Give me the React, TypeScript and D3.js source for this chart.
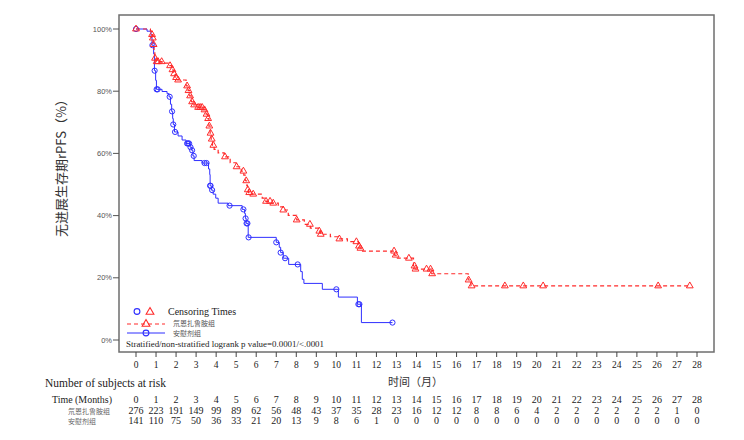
import React from "react";
import * as d3 from "d3";

const months = d3.range(0, 29);
const yTicks = [0, 20, 40, 60, 80, 100];

const redStepT = [0.72,0.78,0.82,0.86,0.9,0.94,1.0,1.3,1.65,1.78,1.85,1.95,2.05,2.5,2.6,2.68,2.76,2.85,3.05,3.35,3.5,3.58,3.64,3.7,3.75,3.82,3.9,4.1,4.4,4.7,5.0,5.25,5.38,5.45,5.52,5.56,5.62,5.8,6.3,6.48,6.7,7.1,7.35,7.6,8.02,8.4,8.7,9.1,9.2,9.7,10.13,10.55,11.1,11.18,11.25,12.9,12.98,13.85,13.92,14.76,16.58,16.72];
const redStepS = [99.3,98.2,97.1,95.0,93.0,90.6,89.5,89.0,88.2,86.9,85.6,84.4,83.6,81.7,80.2,78.5,76.6,75.6,74.8,74.0,72.6,71.2,68.8,66.5,64.6,62.6,61.3,60.2,58.9,57.0,55.7,54.3,53.0,51.2,49.8,48.3,47.4,46.9,45.6,44.6,44.0,42.8,41.8,40.1,38.6,37.2,36.0,35.0,34.0,33.2,32.5,31.6,30.2,29.5,28.6,27.3,26.3,23.8,22.8,21.3,19.3,17.4];
const redCensor = [0,0.8,0.84,0.88,0.95,1.03,1.1,1.28,1.7,1.82,1.9,2.0,2.1,2.55,2.62,2.7,2.8,2.9,3.1,3.2,3.3,3.42,3.52,3.6,3.66,3.72,3.78,3.86,4.44,5.02,5.36,5.5,5.58,5.65,5.85,6.49,6.69,6.85,7.35,8.02,8.68,9.15,9.22,10.15,11.0,11.13,11.2,12.88,12.96,13.62,13.9,13.95,14.5,14.7,14.78,16.6,16.75,18.41,19.33,20.32,26.06,27.64];
const redEnd = 27.64;

const blueStepT = [0.55,0.75,0.8,0.88,0.92,0.98,1.02,1.3,1.55,1.65,1.72,1.78,1.83,1.86,1.92,2.1,2.3,2.5,2.7,2.78,2.84,2.9,3.3,3.62,3.68,3.7,3.76,3.85,3.98,4.1,4.6,5.3,5.42,5.46,5.5,5.6,7.0,7.15,7.22,7.35,7.62,8.22,8.3,8.38,9.3,10.1,11.05,11.25];
const blueStepS = [99.3,97.2,94.8,92.0,86.6,83.5,80.6,79.9,79.2,78.2,75.8,73.5,71.2,69.3,66.9,65.6,64.3,63.2,62.0,61.0,59.2,57.7,56.9,55.0,53.2,49.6,48.2,46.9,45.6,44.0,43.2,42.0,40.7,39.1,37.5,33.0,31.4,29.8,28.1,26.3,24.3,22.0,19.5,18.2,16.3,13.8,11.5,5.6];
const blueCensor = [0,0.82,0.93,1.03,1.08,1.68,1.8,1.86,1.95,2.55,2.6,2.65,2.72,2.8,2.88,3.42,3.52,3.7,3.72,3.8,4.67,5.36,5.47,5.52,5.56,5.62,7.0,7.22,7.44,8.07,10.0,11.1,11.15,12.8];
const blueEnd = 12.8;

const riskRed = [276,223,191,149,99,89,62,56,48,43,37,35,28,23,16,12,12,8,8,6,4,2,2,2,2,2,2,1,0];
const riskBlue = [141,110,75,50,36,33,21,20,13,9,8,6,1,0,0,0,0,0,0,0,0,0,0,0,0,0,0,0,0];

const redName = "氘恩扎鲁胺组";
const blueName = "安慰剂组";

const RED = "#ff2a2a";
const BLUE = "#2f2fff";
const SERIF = "'Liberation Serif', 'DejaVu Serif', serif";
const SANS = "'Liberation Sans', Arial, sans-serif";
const CJK = "'Noto Sans CJK SC', sans-serif";

function survAt(t: number, T: number[], S: number[]) {
  let s = 100;
  for (let i = 0; i < T.length; i++) if (T[i] <= t) s = S[i];
  return s;
}

export default function App() {
  const x = d3.scaleLinear().domain([0, 28]).range([136, 697]);
  const y = d3.scaleLinear().domain([0, 100]).range([340, 29]);

  const stepPath = (T: number[], S: number[], end: number) => {
    const pts: [number, number][] = [[0, 100]];
    T.forEach((t, i) => pts.push([t, S[i]]));
    pts.push([end, S[S.length - 1]]);
    return d3.line<[number, number]>().x(d => x(d[0])).y(d => y(d[1])).curve(d3.curveStepAfter)(pts) || "";
  };

  const tri = d3.symbol().type(d3.symbolTriangle).size(20)() || "";
  const triL = d3.symbol().type(d3.symbolTriangle).size(26)() || "";

  return (
    <svg width={744} height={440} style={{ position: "absolute", left: 0, top: 0, background: "#fff" }}>
      <rect x={0} y={0} width={744} height={440} fill="#fff" />
      {/* frame */}
      <rect x={119} y={15} width={595} height={337} fill="none" stroke="#6e6e6e" strokeWidth={1.5} />
      {/* y ticks */}
      {yTicks.map(v => (
        <g key={v}>
          <line x1={113} x2={119} y1={y(v)} y2={y(v)} stroke="#555" strokeWidth={1} />
          <text x={112} y={y(v) + 2.5} textAnchor="end" fontFamily={SANS} fontSize={7.5} fill="#555">{v}%</text>
        </g>
      ))}
      {/* x ticks */}
      {months.map(m => (
        <g key={m}>
          <line x1={x(m)} x2={x(m)} y1={352} y2={357} stroke="#444" strokeWidth={1} />
          <text x={x(m)} y={368} textAnchor="middle" fontFamily={SERIF} fontSize={9.5} fill="#222">{m}</text>
        </g>
      ))}
      <text transform="translate(66,165) rotate(-90)" textAnchor="middle" fontFamily={CJK} fontSize={13} fill="#333">无进展生存期rPFS（%）</text>
      <text x={388} y={386} fontFamily={CJK} fontSize={11} fill="#333">时间（月）</text>

      {/* curves */}
      <path d={stepPath(blueStepT, blueStepS, blueEnd)} fill="none" stroke={BLUE} strokeWidth={1} />
      <path d={stepPath(redStepT, redStepS, redEnd)} fill="none" stroke={RED} strokeWidth={1.2} strokeDasharray="4,3" />
      {blueCensor.map((t, i) => (
        <circle key={"b" + i} cx={x(t)} cy={y(survAt(t, blueStepT, blueStepS))} r={2.6} fill="none" stroke={BLUE} strokeWidth={1} />
      ))}
      {redCensor.map((t, i) => (
        <path key={"r" + i} d={tri} transform={`translate(${x(t)},${y(survAt(t, redStepT, redStepS))})`} fill="none" stroke={RED} strokeWidth={1} />
      ))}

      {/* legend */}
      <circle cx={137} cy={311.5} r={2.9} fill="none" stroke={BLUE} strokeWidth={1.1} />
      <path d={triL} transform="translate(150,312)" fill="none" stroke={RED} strokeWidth={1.1} />
      <text x={168} y={315} fontFamily={SERIF} fontSize={10} fill="#222">Censoring Times</text>
      <line x1={127} x2={165} y1={324} y2={324} stroke={RED} strokeWidth={1.2} strokeDasharray="4,3" />
      <path d={triL} transform="translate(146,324)" fill="none" stroke={RED} strokeWidth={1.1} />
      <text x={173} y={326.2} fontFamily={CJK} fontSize={7} fill="#555">{redName}</text>
      <line x1={127} x2={165} y1={333} y2={333} stroke={BLUE} strokeWidth={1} />
      <circle cx={146} cy={333} r={2.9} fill="none" stroke={BLUE} strokeWidth={1.1} />
      <text x={173} y={336.4} fontFamily={CJK} fontSize={7} fill="#555">{blueName}</text>
      <text x={126} y={346.5} fontFamily={SERIF} fontSize={9} fill="#222" textLength={198} lengthAdjust="spacingAndGlyphs">Stratified/non-stratified logrank p value=0.0001/&lt;.0001</text>

      {/* risk table */}
      <text x={45} y={387} fontFamily={SERIF} fontSize={12.5} fill="#222" textLength={121} lengthAdjust="spacingAndGlyphs">Number of subjects at risk</text>
      <text x={52} y={402.5} fontFamily={SERIF} fontSize={10.5} fill="#222" textLength={60} lengthAdjust="spacingAndGlyphs">Time (Months)</text>
      <text x={68} y={413.5} fontFamily={CJK} fontSize={7} fill="#666">{redName}</text>
      <text x={68} y={423.5} fontFamily={CJK} fontSize={7} fill="#666">{blueName}</text>
      {months.map(m => (
        <g key={"rk" + m}>
          <text x={x(m)} y={402.5} textAnchor="middle" fontFamily={SERIF} fontSize={10} fill="#222">{m}</text>
          <text x={x(m)} y={414} textAnchor="middle" fontFamily={SERIF} fontSize={10} fill="#222">{riskRed[m]}</text>
          <text x={x(m)} y={424} textAnchor="middle" fontFamily={SERIF} fontSize={10} fill="#222">{riskBlue[m]}</text>
        </g>
      ))}
    </svg>
  );
}
